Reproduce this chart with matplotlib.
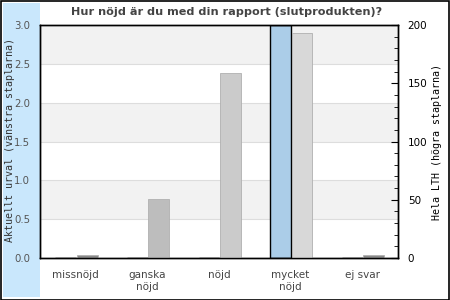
import matplotlib
matplotlib.use("Agg")
import matplotlib.pyplot as plt
from matplotlib.patches import Rectangle
from matplotlib.ticker import MultipleLocator

categories = ["missnöjd", "ganska\nnöjd", "nöjd", "mycket\nnöjd", "ej svar"]
urval = [0, 0, 0, 3, 0]            # vänstra staplarna
lth = [3, 51, 159, 193, 3]          # högra staplarna
lth_colors = ["#8a8a8a", "#bdbdbd", "#cbcbcb", "#d8d8d8", "#8a8a8a"]

title = "Hur nöjd är du med din rapport (slutprodukten)?"
left_label = "Aktuellt urval (vänstra staplarna)"
right_label = "Hela LTH (högra staplarna)"

fig = plt.figure(figsize=(4.5, 3), dpi=100)
fig.patch.set_facecolor("white")

# blue side panel + outer frame
fig.patches.append(Rectangle((3 / 450, 3 / 300), 37 / 450, 294 / 300,
                             transform=fig.transFigure, facecolor="#c9e7fc",
                             edgecolor="none", zorder=-5))
fig.patches.append(Rectangle((0.5 / 450, 0.5 / 300), 448.5 / 450, 298.5 / 300,
                             transform=fig.transFigure, facecolor="none",
                             edgecolor="black", linewidth=1.2, zorder=10))

ax = fig.add_axes([40 / 450, 42 / 300, 358 / 450, 233 / 300])
ax2 = ax.twinx()

x = list(range(len(categories)))
w = 0.29

# alternating bands
ax.set_ylim(0, 3)
for i in range(6):
    lo = i * 0.5
    ax.axhspan(lo, lo + 0.5, color="#f2f2f2" if i % 2 else "white", zorder=0, lw=0)
    ax.axhline(lo, color="#dddddd", lw=0.8, zorder=0.5)

ax.bar([i - 0.14 for i in x], urval, width=w, color="#abcde8",
       edgecolor="black", linewidth=1, zorder=2)
ax2.bar([i + 0.16 for i in x], lth, width=w, color=lth_colors,
        edgecolor="#b0b0b0", linewidth=0.6, zorder=2)

ax.set_xlim(-0.5, len(categories) - 0.5)
ax2.set_ylim(0, 200)
ax.set_yticks([0, 0.5, 1.0, 1.5, 2.0, 2.5, 3.0])
ax.set_yticklabels(["0.0", "0.5", "1.0", "1.5", "2.0", "2.5", "3.0"])
ax.set_xticks(x)
ax.set_xticklabels(categories, fontsize=7.5, color="#444444", linespacing=1.15)
ax.tick_params(axis="y", length=0, labelsize=7.3, labelcolor="#555555", pad=7)
ax.tick_params(axis="x", length=0, pad=9)

ax2.yaxis.set_major_locator(MultipleLocator(50))
ax2.yaxis.set_minor_locator(MultipleLocator(10))
ax2.tick_params(axis="y", which="major", direction="in", length=5,
                labelsize=7.5, labelcolor="black", pad=7)
ax2.tick_params(axis="y", which="minor", direction="in", length=3)
ax2.patch.set_visible(False)

for a in (ax, ax2):
    for s in a.spines.values():
        s.set_color("black")
        s.set_linewidth(1)

fig.text(10 / 450, (300 - 140) / 300, left_label, rotation=90, ha="center",
         va="center", fontsize=7.2, family="DejaVu Sans Mono", color="#333333")
fig.text(437 / 450, (300 - 142) / 300, right_label, rotation=90, ha="center",
         va="center", fontsize=7.2, family="DejaVu Sans Mono", color="black")
fig.text(227 / 450, (300 - 12) / 300, title, ha="center", va="center",
         fontsize=8.1, fontweight="bold", color="#444444")

fig.savefig("out.png", dpi=100)
